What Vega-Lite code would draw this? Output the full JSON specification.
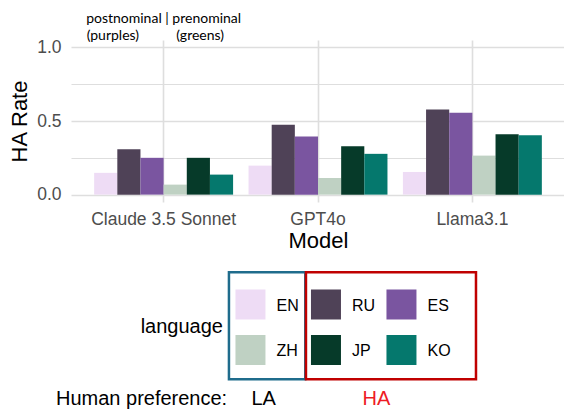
{
  "$schema": "https://vega.github.io/schema/vega-lite/v6.json",
  "padding": {"left": 8, "top": 12, "right": 0, "bottom": 0},
  "autosize": {"type": "pad"},
  "background": "white",
  "config": {"view": {"stroke": null}, "font": "Liberation Sans"},
  "datasets": {
    "rates": [
      {"model": "Claude 3.5 Sonnet", "language": "EN", "rate": 0.148},
      {"model": "Claude 3.5 Sonnet", "language": "RU", "rate": 0.308},
      {"model": "Claude 3.5 Sonnet", "language": "ES", "rate": 0.25},
      {"model": "Claude 3.5 Sonnet", "language": "ZH", "rate": 0.068},
      {"model": "Claude 3.5 Sonnet", "language": "JP", "rate": 0.25},
      {"model": "Claude 3.5 Sonnet", "language": "KO", "rate": 0.136},
      {"model": "GPT4o", "language": "EN", "rate": 0.197},
      {"model": "GPT4o", "language": "RU", "rate": 0.474},
      {"model": "GPT4o", "language": "ES", "rate": 0.395},
      {"model": "GPT4o", "language": "ZH", "rate": 0.113},
      {"model": "GPT4o", "language": "JP", "rate": 0.329},
      {"model": "GPT4o", "language": "KO", "rate": 0.277},
      {"model": "Llama3.1", "language": "EN", "rate": 0.154},
      {"model": "Llama3.1", "language": "RU", "rate": 0.578},
      {"model": "Llama3.1", "language": "ES", "rate": 0.556},
      {"model": "Llama3.1", "language": "ZH", "rate": 0.265},
      {"model": "Llama3.1", "language": "JP", "rate": 0.41},
      {"model": "Llama3.1", "language": "KO", "rate": 0.403}
    ],
    "legendItems": [
      {"language": "EN", "col": 0, "row": 0},
      {"language": "RU", "col": 1, "row": 0},
      {"language": "ES", "col": 2, "row": 0},
      {"language": "ZH", "col": 0, "row": 1},
      {"language": "JP", "col": 1, "row": 1},
      {"language": "KO", "col": 2, "row": 1}
    ]
  },
  "bounds": "flush",
  "spacing": 60,
  "resolve": {"scale": {"x": "independent", "y": "independent", "color": "shared"}},
  "vconcat": [
    {
      "width": 494,
      "height": 162,
      "layer": [
        {
          "data": {"name": "rates"},
          "mark": {"type": "bar"},
          "encoding": {
            "x": {
              "field": "model", "type": "nominal",
              "sort": ["Claude 3.5 Sonnet", "GPT4o", "Llama3.1"],
              "scale": {"paddingInner": 0.1, "paddingOuter": 0.15},
              "axis": {
                "title": "Model", "titleFontSize": 22, "titleFontWeight": "normal", "titleColor": "black", "titlePadding": 3,
                "labelFontSize": 17.5, "labelColor": "#4d4d4d", "labelAngle": 0, "labelPadding": 8,
                "ticks": false, "domain": false, "grid": true, "gridColor": "#dedede", "gridWidth": 1.6, "bandPosition": 0.5
              }
            },
            "xOffset": {
              "field": "language", "type": "nominal",
              "sort": ["EN", "RU", "ES", "ZH", "JP", "KO"],
              "scale": {"paddingInner": 0, "paddingOuter": 0}
            },
            "y": {
              "field": "rate", "type": "quantitative",
              "scale": {"domain": [-0.05, 1.05], "nice": false, "zero": false},
              "axis": {
                "title": "HA Rate", "titleFontSize": 22, "titleFontWeight": "normal", "titleColor": "black", "titlePadding": 5,
                "values": [0, 0.25, 0.5, 0.75, 1],
                "labelExpr": "datum.value % 0.5 === 0 ? format(datum.value, '.1f') : ''",
                "labelFontSize": 17.5, "labelColor": "#4d4d4d", "labelPadding": 10, "labelOverlap": false,
                "ticks": false, "domain": false, "grid": true, "gridColor": "#dedede",
                "gridWidth": {"condition": {"test": "datum.value % 0.5 === 0", "value": 1.6}, "value": 1.2}
              }
            },
            "y2": {"datum": 0},
            "color": {
              "field": "language", "type": "nominal",
              "scale": {
                "domain": ["EN", "RU", "ES", "ZH", "JP", "KO"],
                "range": ["#eedcf5", "#4f4257", "#7a55a0", "#bfd1c3", "#063a29", "#05786d"]
              },
              "legend": null
            }
          }
        },
        {
          "data": {"values": [{}]},
          "mark": {"type": "text", "font": "Lato", "fontSize": 14, "align": "center", "baseline": "middle", "color": "black"},
          "encoding": {
            "x": {"datum": "Claude 3.5 Sonnet"},
            "y": {"datum": 1.19},
            "text": {"value": "postnominal | prenominal"}
          }
        },
        {
          "data": {"values": [{}]},
          "mark": {"type": "text", "font": "Lato", "fontSize": 14, "align": "left", "baseline": "middle", "color": "black", "dx": -77},
          "encoding": {
            "x": {"datum": "Claude 3.5 Sonnet"},
            "y": {"datum": 1.076},
            "text": {"value": "(purples)"}
          }
        },
        {
          "data": {"values": [{}]},
          "mark": {"type": "text", "font": "Lato", "fontSize": 14, "align": "left", "baseline": "middle", "color": "black", "dx": 12.5},
          "encoding": {
            "x": {"datum": "Claude 3.5 Sonnet"},
            "y": {"datum": 1.076},
            "text": {"value": "(greens)"}
          }
        }
      ]
    },
    {
      "width": 494,
      "height": 147,
      "layer": [
        {
          "data": {"name": "legendItems"},
          "mark": {"type": "point", "shape": "square", "filled": true, "size": 900, "opacity": 1, "strokeWidth": 0},
          "encoding": {
            "x": {"field": "col", "type": "quantitative", "scale": {"domain": [-2.377, 4.166], "nice": false, "zero": false}, "axis": null},
            "y": {"field": "row", "type": "quantitative", "scale": {"domain": [-0.934, 2.297], "nice": false, "zero": false, "reverse": true}, "axis": null},
            "color": {"field": "language", "type": "nominal", "legend": null}
          }
        },
        {
          "data": {"name": "legendItems"},
          "mark": {"type": "text", "align": "left", "baseline": "middle", "fontSize": 16, "color": "black", "dx": 26, "dy": 1.5},
          "encoding": {
            "x": {"field": "col", "type": "quantitative"},
            "y": {"field": "row", "type": "quantitative"},
            "text": {"field": "language"}
          }
        },
        {
          "data": {"values": [{}]},
          "mark": {"type": "rect", "filled": false, "stroke": "#1f6c8c", "strokeWidth": 2.5},
          "encoding": {
            "x": {"datum": -0.285}, "x2": {"datum": 0.726},
            "y": {"datum": -0.708}, "y2": {"datum": 1.644}
          }
        },
        {
          "data": {"values": [{}]},
          "mark": {"type": "rect", "filled": false, "stroke": "#c00000", "strokeWidth": 2.5},
          "encoding": {
            "x": {"datum": 0.735}, "x2": {"datum": 2.987},
            "y": {"datum": -0.708}, "y2": {"datum": 1.644}
          }
        },
        {
          "data": {"values": [{}]},
          "mark": {"type": "text", "align": "right", "baseline": "middle", "fontSize": 20, "color": "black"},
          "encoding": {"x": {"datum": -0.364}, "y": {"datum": 0.505}, "text": {"value": "language"}}
        },
        {
          "data": {"values": [{}]},
          "mark": {"type": "text", "align": "left", "baseline": "alphabetic", "fontSize": 20, "color": "black"},
          "encoding": {"x": {"datum": -2.576}, "y": {"datum": 2.2}, "text": {"value": "Human preference:"}}
        },
        {
          "data": {"values": [{}]},
          "mark": {"type": "text", "align": "center", "baseline": "alphabetic", "fontSize": 20, "color": "black"},
          "encoding": {"x": {"datum": 0.175}, "y": {"datum": 2.2}, "text": {"value": "LA"}}
        },
        {
          "data": {"values": [{}]},
          "mark": {"type": "text", "align": "center", "baseline": "alphabetic", "fontSize": 20, "color": "#ee1c25"},
          "encoding": {"x": {"datum": 1.669}, "y": {"datum": 2.2}, "text": {"value": "HA"}}
        }
      ]
    }
  ]
}
